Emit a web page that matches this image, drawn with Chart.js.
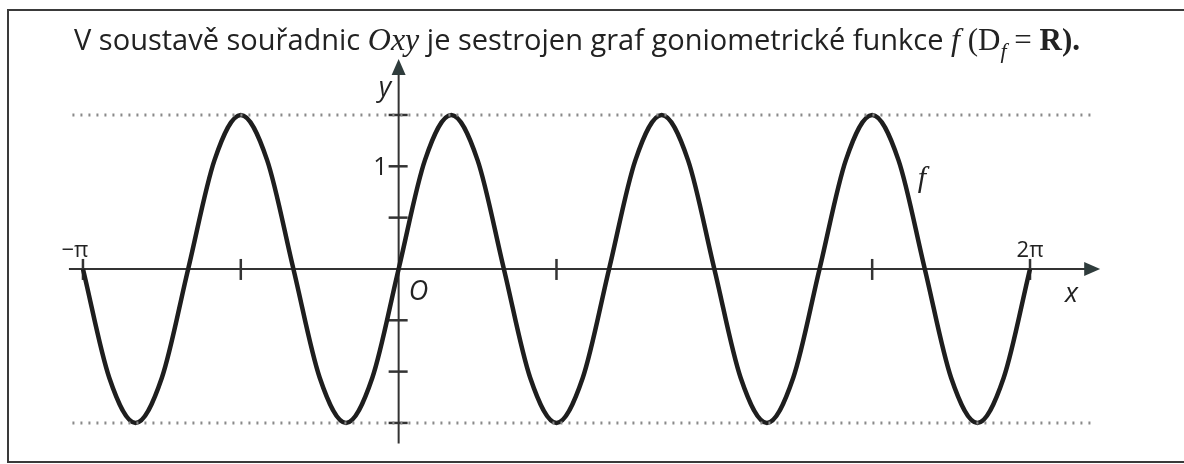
<!DOCTYPE html>
<html>
<head>
<meta charset="utf-8">
<script src="https://cdn.jsdelivr.net/npm/chart.js@4"></script>
<style>
  html, body { margin: 0; padding: 0; background: #fff; }
  #wrap { width: 1184px; height: 464px; }
</style>
</head>
<body>
<div id="wrap"><canvas id="graf" width="1184" height="464"></canvas></div>
<script>
// x positions in degrees (-pi .. 2pi), read every 15 deg
const xDeg = [-180,-165,-150,-135,-120,-105,-90,-75,-60,-45,-30,-15,
  0,15,30,45,60,75,90,105,120,135,150,165,
  180,195,210,225,240,255,270,285,300,315,330,345,360];
// f values
const fValues = [0,-1.06,-1.5,-1.06,0,1.06,1.5,1.06,
  0,-1.06,-1.5,-1.06,0,1.06,1.5,1.06,
  0,-1.06,-1.5,-1.06,0,1.06,1.5,1.06,
  0,-1.06,-1.5,-1.06,0,1.06,1.5,1.06,
  0,-1.06,-1.5,-1.06,0];

// dotted bound lines
const boundLevels = [1.5, -1.5];
const boundFrom = -186, boundTo = 395;

// axes ticks + labels
const xTicks = [-180, -90, 90, 270, 360];
const xLabelAt = [-180, 360];
const xLabelText = ['\u2212\u03c0', '2\u03c0'];
const yTicks = [-1.5, -1, -0.5, 0.5, 1, 1.5];
const yLabelAt = [1];
const yLabelText = ['1'];

const SANS = '"Open Sans", "Noto Sans", sans-serif';
const SERIF = '"Liberation Serif", "DejaVu Serif", serif';

const titleParts = [
  { t: 'V soustavě souřadnic ', f: '29px ' + SANS },
  { t: 'Oxy', f: 'italic 32px ' + SERIF },
  { t: ' je sestrojen graf goniometrické funkce ', f: '29px ' + SANS },
  { t: 'f', f: 'italic 32px ' + SERIF },
  { t: ' (D', f: '31px ' + SERIF },
  { t: 'f', f: 'italic 22px ' + SERIF, dy: 8 },
  { t: ' = ', f: '31px ' + SERIF },
  { t: 'R', f: 'bold 31px ' + SERIF },
  { t: ').', f: 'bold 31px ' + SERIF }
];

const axesPlugin = {
  id: 'axesPlugin',
  beforeDraw(chart) {
    const c = chart.ctx;
    c.save();
    c.fillStyle = '#fff';
    c.fillRect(0, 0, chart.width, chart.height);
    // frame
    c.strokeStyle = '#3a3a3a';
    c.lineWidth = 2;
    c.beginPath();
    c.moveTo(1184, 10); c.lineTo(8, 10); c.lineTo(8, 462); c.lineTo(1184, 462);
    c.stroke();
    c.restore();
  },
  beforeDatasetsDraw(chart) {
    const c = chart.ctx;
    const xs = chart.scales.x, ys = chart.scales.y;
    const x0 = xs.getPixelForValue(0), y0 = ys.getPixelForValue(0);
    c.save();
    c.strokeStyle = '#333';
    c.fillStyle = '#2f3c3c';
    c.lineWidth = 2;
    // x axis
    const xL = xs.getPixelForValue(-188), xR = xs.getPixelForValue(400);
    c.beginPath(); c.moveTo(xL, y0); c.lineTo(xR - 12, y0); c.stroke();
    c.beginPath(); c.moveTo(xR, y0); c.lineTo(xR - 16, y0 - 7); c.lineTo(xR - 16, y0 + 7); c.closePath(); c.fill();
    // y axis
    const yB = ys.getPixelForValue(-1.7), yT = ys.getPixelForValue(2.045);
    c.beginPath(); c.moveTo(x0, yB); c.lineTo(x0, yT + 12); c.stroke();
    c.beginPath(); c.moveTo(x0, yT); c.lineTo(x0 - 7, yT + 16); c.lineTo(x0 + 7, yT + 16); c.closePath(); c.fill();
    // ticks
    c.lineWidth = 2.5;
    xTicks.forEach(v => {
      const p = xs.getPixelForValue(v);
      c.beginPath(); c.moveTo(p, y0 - 10); c.lineTo(p, y0 + 11); c.stroke();
    });
    yTicks.forEach(v => {
      const p = ys.getPixelForValue(v);
      c.beginPath(); c.moveTo(x0 - 10, p); c.lineTo(x0 + 9, p); c.stroke();
    });
    c.restore();
  },
  afterDatasetsDraw(chart) {
    const c = chart.ctx;
    const xs = chart.scales.x, ys = chart.scales.y;
    const x0 = xs.getPixelForValue(0), y0 = ys.getPixelForValue(0);
    c.save();
    c.fillStyle = '#222';
    c.textBaseline = 'alphabetic';
    // x labels
    c.font = '22px ' + SANS;
    c.textAlign = 'center';
    xLabelAt.forEach((v, i) => {
      c.fillText(xLabelText[i], xs.getPixelForValue(v) - (i === 0 ? 8 : 0), y0 - 12);
    });
    // y labels
    c.font = '25px ' + SANS;
    c.textAlign = 'right';
    yLabelAt.forEach((v, i) => {
      c.fillText(yLabelText[i], x0 - 11, ys.getPixelForValue(v) + 9);
    });
    // axis names
    c.font = 'italic 27px ' + SANS;
    c.textAlign = 'left';
    c.fillText('y', x0 - 20, ys.getPixelForValue(1.68));
    c.fillText('x', xs.getPixelForValue(380), y0 + 33);
    c.fillText('O', x0 + 10, y0 + 31);
    c.font = 'italic 30px ' + SERIF;
    c.fillText('f', xs.getPixelForValue(296), ys.getPixelForValue(0.8));
    // title
    let w = 0;
    titleParts.forEach(p => { c.font = p.f; w += c.measureText(p.t).width; });
    let x = 577 - w / 2;
    titleParts.forEach(p => {
      c.font = p.f;
      c.fillText(p.t, x, 50 + (p.dy || 0));
      x += c.measureText(p.t).width;
    });
    c.restore();
  }
};

const curveData = xDeg.map((x, i) => ({ x: x, y: fValues[i] }));
const boundSets = boundLevels.map(lv => ({
  data: [{ x: boundFrom, y: lv }, { x: boundTo, y: lv }],
  borderColor: '#8a8a8a',
  borderWidth: 3,
  borderDash: [2, 6],
  pointRadius: 0
}));

new Chart(document.getElementById('graf'), {
  type: 'line',
  data: {
    datasets: [
      ...boundSets,
      {
        data: curveData,
        borderColor: '#1e1e1e',
        borderWidth: 4.5,
        cubicInterpolationMode: 'monotone',
        pointRadius: 0
      }
    ]
  },
  options: {
    responsive: false,
    animation: false,
    devicePixelRatio: 1,
    layout: { padding: 0 },
    scales: {
      x: { type: 'linear', min: -227.3, max: 447.8, display: false },
      y: { min: -1.9, max: 2.62, display: false }
    },
    plugins: { legend: { display: false }, tooltip: { enabled: false } }
  },
  plugins: [axesPlugin]
});
</script>
</body>
</html>
